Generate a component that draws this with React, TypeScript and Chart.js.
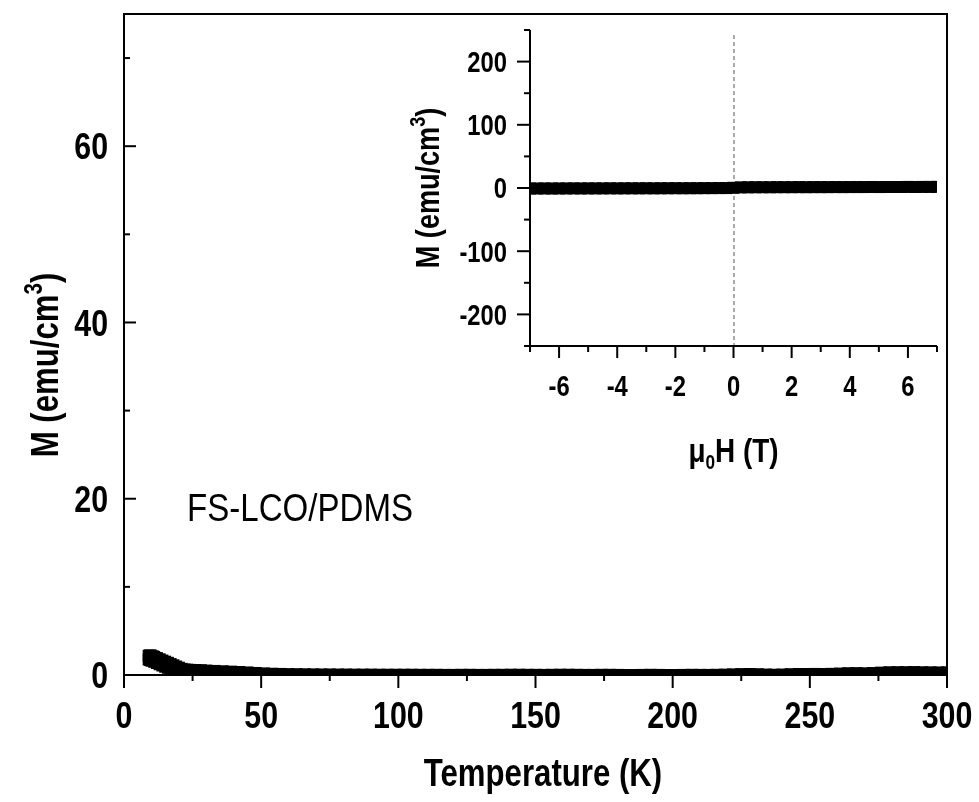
import { useEffect, useRef } from 'react';
import { Chart, registerables } from 'chart.js';

Chart.register(...registerables);

const FONT = '"Liberation Sans", Arial, sans-serif';
const SX = 0.82; // horizontal compression to mimic a narrow face

// ---- Main panel: M(T) ----
const tempK = [
  9.0, 9.4, 9.8, 10.5, 11, 12, 13, 14, 15, 16, 17, 18, 19, 20, 21, 22, 23, 24, 26, 28,
  9.0, 9.5, 10, 11, 12, 13, 14, 15, 16, 17, 18, 19, 20, 22, 24, 26, 28,
  30, 33, 36, 39, 42, 45, 48, 51, 54, 57, 60, 63, 66, 69, 72, 75, 78, 81, 84, 87, 90, 93, 96, 99,
  102, 105, 108, 111, 114, 117, 120, 123, 126, 129, 132, 135, 138, 141, 144, 147, 150, 153, 156, 159,
  162, 165, 168, 171, 174, 177, 180, 183, 186, 189, 192, 195, 198, 201, 204, 207, 210, 213, 216, 219,
  222, 225, 228, 231, 234, 237, 240, 243, 246, 249, 252, 255, 258, 261, 264, 267, 270, 273, 276, 279,
  282, 285, 288, 291, 294, 297, 300,
];
const magMT = [
  2.18, 2.22, 2.2, 2.12, 2.05, 1.92, 1.78, 1.64, 1.51, 1.38, 1.24, 1.1, 0.96, 0.83, 0.7, 0.62, 0.6, 0.58, 0.56, 0.54,
  1.76, 1.7, 1.62, 1.5, 1.36, 1.22, 1.08, 0.94, 0.82, 0.72, 0.64, 0.58, 0.53, 0.48, 0.45, 0.43, 0.41,
  0.5, 0.46, 0.42, 0.38, 0.34, 0.29, 0.23, 0.18, 0.14, 0.12, 0.1, 0.09, 0.08, 0.07, 0.06, 0.06, 0.05, 0.05, 0.04, 0.04, 0.04, 0.03, 0.03, 0.03,
  0.03, 0.03, 0.02, 0.02, 0.02, 0.01, 0.01, 0.02, 0.02, 0.01, 0.01, 0.02, 0.02, 0.03, 0.03, 0.02, 0.02, 0.01, 0.02, 0.03,
  0.03, 0.02, 0.01, 0.01, 0.02, 0.02, 0.01, 0.0, 0.0, 0.01, 0.02, 0.01, 0.0, 0.0, 0.01, 0.02, 0.01, 0.01, 0.02, 0.04,
  0.07, 0.1, 0.11, 0.09, 0.05, 0.03, 0.05, 0.09, 0.11, 0.11, 0.12, 0.11, 0.13, 0.16, 0.2, 0.21, 0.19, 0.22, 0.27, 0.31,
  0.32, 0.32, 0.33, 0.31, 0.3, 0.29, 0.3,
];
const mainXLabels = [0, 50, 100, 150, 200, 250, 300];
const mainYLabels = [0, 20, 40, 60];

// ---- Inset: M(H) ----
const fieldT = [
  -7, -6.75, -6.5, -6.25, -6, -5.75, -5.5, -5.25, -5, -4.75, -4.5, -4.25, -4, -3.75,
  -3.5, -3.25, -3, -2.75, -2.5, -2.25, -2, -1.75, -1.5, -1.25, -1, -0.75, -0.5, -0.25,
  0,
  0.25, 0.5, 0.75, 1, 1.25, 1.5, 1.75, 2, 2.25, 2.5, 2.75, 3, 3.25, 3.5,
  3.75, 4, 4.25, 4.5, 4.75, 5, 5.25, 5.5, 5.75, 6, 6.25, 6.5, 6.75, 7,
];
const magMH = [
  -0.8, -0.8, -0.7, -0.8, -0.7, -0.7, -0.6, -0.7, -0.6, -0.6, -0.6, -0.5, -0.6, -0.5,
  -0.5, -0.5, -0.4, -0.5, -0.4, -0.4, -0.3, -0.4, -0.3, -0.3, -0.2, -0.2, -0.1, -0.1,
  0.3,
  1.0, 1.1, 1.2, 1.2, 1.2, 1.3, 1.3, 1.3, 1.4, 1.3, 1.4, 1.4, 1.4, 1.5,
  1.4, 1.5, 1.5, 1.5, 1.6, 1.5, 1.6, 1.6, 1.6, 1.7, 1.6, 1.7, 1.7, 1.8,
];
const insetXLabels = [-6, -4, -2, 0, 2, 4, 6];
const insetYLabels = [-200, -100, 0, 100, 200];

const sampleLabel = 'FS-LCO/PDMS';
const mainXTitle = 'Temperature (K)';

type Part = { t: string; size: number; dy: number };

// Draws (optionally rotated) text whose cap-height centre sits on (cx, cy).
function drawParts(
  ctx: CanvasRenderingContext2D,
  parts: Part[],
  weight: string,
  cx: number,
  cy: number,
  cap: number,
  rotate: boolean,
  align: 'left' | 'center' | 'right' = 'center',
  sx: number = SX,
) {
  ctx.save();
  ctx.translate(cx, cy);
  if (rotate) ctx.rotate(-Math.PI / 2);
  ctx.scale(sx, 1);
  ctx.textAlign = 'left';
  ctx.textBaseline = 'alphabetic';
  ctx.fillStyle = '#000';
  const widths = parts.map((p) => {
    ctx.font = `${weight} ${p.size}px ${FONT}`;
    return ctx.measureText(p.t).width;
  });
  const total = widths.reduce((a, b) => a + b, 0);
  let x = align === 'center' ? -total / 2 : align === 'right' ? -total : 0;
  const base = cap * 0.358;
  parts.forEach((p, i) => {
    ctx.font = `${weight} ${p.size}px ${FONT}`;
    ctx.fillText(p.t, x, base + p.dy);
    x += widths[i];
  });
  ctx.restore();
}

function txt(
  ctx: CanvasRenderingContext2D,
  t: string,
  size: number,
  weight: string,
  x: number,
  y: number,
  align: 'left' | 'center' | 'right',
  sx: number = SX,
) {
  drawParts(ctx, [{ t, size, dy: 0 }], weight, x, y, size, false, align, sx);
}

function line(ctx: CanvasRenderingContext2D, x1: number, y1: number, x2: number, y2: number) {
  ctx.beginPath();
  ctx.moveTo(x1, y1);
  ctx.lineTo(x2, y2);
  ctx.stroke();
}

const mainDecor = {
  id: 'mainDecor',
  afterDraw(chart: any) {
    const { ctx, chartArea: a, scales } = chart;
    const x = scales.x;
    const y = scales.y;
    ctx.save();
    ctx.strokeStyle = '#000';
    ctx.lineWidth = 2;
    x.ticks.forEach((t: any) => {
      const px = x.getPixelForValue(t.value);
      const major = mainXLabels.includes(t.value);
      line(ctx, px, a.bottom, px, a.bottom + (major ? 13 : 6));
      if (major) txt(ctx, String(t.value), 37, 'bold', px, a.bottom + 40, 'center');
    });
    y.ticks.forEach((t: any) => {
      const py = y.getPixelForValue(t.value);
      const major = mainYLabels.includes(t.value);
      line(ctx, a.left, py, a.left + (major ? 12 : 6), py);
      if (major) txt(ctx, String(t.value), 37, 'bold', a.left - 16, py, 'right');
    });
    ctx.strokeRect(a.left, a.top, a.right - a.left, a.bottom - a.top);
    ctx.restore();

    txt(ctx, mainXTitle, 38, 'bold', 543, a.bottom + 97, 'center');

    drawParts(
      ctx,
      [
        { t: 'M (emu/cm', size: 38, dy: 0 },
        { t: '3', size: 25, dy: -16 },
        { t: ')', size: 38, dy: 0 },
      ],
      'bold',
      44,
      365,
      38,
      true,
    );

    txt(ctx, sampleLabel, 38, 'normal', x.getPixelForValue(23), y.getPixelForValue(17.5) - 38 * 0.358, 'left', 0.87);
  },
};

const insetDecor = {
  id: 'insetDecor',
  beforeDatasetsDraw(chart: any) {
    const { ctx, chartArea: a, scales } = chart;
    const px = scales.x.getPixelForValue(0);
    ctx.save();
    ctx.strokeStyle = '#555';
    ctx.lineWidth = 1;
    ctx.setLineDash([4, 3]);
    line(ctx, px + 0.5, scales.y.getPixelForValue(242), px + 0.5, a.bottom);
    ctx.restore();
  },
  afterDraw(chart: any) {
    const { ctx, chartArea: a, scales } = chart;
    const x = scales.x;
    const y = scales.y;
    ctx.save();
    ctx.strokeStyle = '#000';
    ctx.lineWidth = 2;
    x.ticks.forEach((t: any) => {
      const px = x.getPixelForValue(t.value);
      const major = insetXLabels.includes(t.value);
      line(ctx, px, a.bottom, px, a.bottom + (major ? 12 : 6));
      if (major) txt(ctx, String(t.value), 29, 'bold', px, a.bottom + 40, 'center');
    });
    y.ticks.forEach((t: any) => {
      const py = y.getPixelForValue(t.value);
      const major = insetYLabels.includes(t.value);
      line(ctx, a.left - (major ? 13 : 6), py, a.left, py);
      if (major) txt(ctx, String(t.value), 29, 'bold', a.left - 23, py, 'right');
    });
    line(ctx, a.left, a.top, a.left, a.bottom + 1);
    line(ctx, a.left - 1, a.bottom, a.right, a.bottom);
    ctx.restore();

    drawParts(
      ctx,
      [
        { t: 'M (emu/cm', size: 33, dy: 0 },
        { t: '3', size: 22, dy: -14 },
        { t: ')', size: 33, dy: 0 },
      ],
      'bold',
      a.left - 103,
      (a.top + a.bottom) / 2,
      33,
      true,
    );
    drawParts(
      ctx,
      [
        { t: 'μ', size: 34, dy: 0 },
        { t: '0', size: 21, dy: 7 },
        { t: 'H (T)', size: 34, dy: 0 },
      ],
      'bold',
      (a.left + a.right) / 2,
      a.bottom + 104,
      34,
      false,
    );
  },
};

function makeScatter(xs: number[], ys: number[]) {
  return {
    data: xs.map((v, i) => ({ x: v, y: ys[i] })),
    pointStyle: 'rect',
    pointRadius: 8.5,
    pointBorderWidth: 0,
    pointBackgroundColor: '#000',
    backgroundColor: '#000',
    borderColor: '#000',
    showLine: false,
  };
}

function axis(min: number, max: number, step: number, size: number, horizontal: boolean) {
  return {
    type: 'linear',
    min,
    max,
    afterFit: (s: any) => {
      if (horizontal) s.height = size;
      else s.width = size;
    },
    grid: { display: false, drawTicks: false },
    border: { display: false },
    ticks: { stepSize: step, includeBounds: false, autoSkip: false, display: false },
  };
}

export default function App() {
  const mainRef = useRef<HTMLCanvasElement>(null);
  const insetRef = useRef<HTMLCanvasElement>(null);

  useEffect(() => {
    const main = new Chart(mainRef.current!, {
      type: 'scatter',
      data: { datasets: [makeScatter(tempK, magMT)] },
      options: {
        animation: false,
        responsive: false,
        devicePixelRatio: 1,
        layout: { padding: { left: 0, top: 14, right: 32, bottom: 0 } },
        plugins: { legend: { display: false }, tooltip: { enabled: false } },
        scales: {
          x: axis(0, 300, 25, 127, true),
          y: axis(0, 75, 10, 124, false),
        },
      },
      plugins: [mainDecor],
    } as any);

    const inset = new Chart(insetRef.current!, {
      type: 'scatter',
      data: { datasets: [makeScatter(fieldT, magMH)] },
      options: {
        animation: false,
        responsive: false,
        devicePixelRatio: 1,
        layout: { padding: { left: 0, top: 30, right: 23, bottom: 0 } },
        plugins: { legend: { display: false }, tooltip: { enabled: false } },
        scales: {
          x: axis(-7, 7, 1, 154, true),
          y: axis(-250, 250, 50, 150, false),
        },
      },
      plugins: [insetDecor],
    } as any);

    return () => {
      main.destroy();
      inset.destroy();
    };
  }, []);

  return (
    <div style={{ position: 'absolute', left: 0, top: 0, width: 979, height: 802, background: '#fff' }}>
      <canvas
        ref={mainRef}
        width={979}
        height={802}
        style={{ position: 'absolute', left: 0, top: 0, width: 979, height: 802 }}
      />
      <canvas
        ref={insetRef}
        width={580}
        height={500}
        style={{ position: 'absolute', left: 380, top: 0, width: 580, height: 500 }}
      />
    </div>
  );
}
